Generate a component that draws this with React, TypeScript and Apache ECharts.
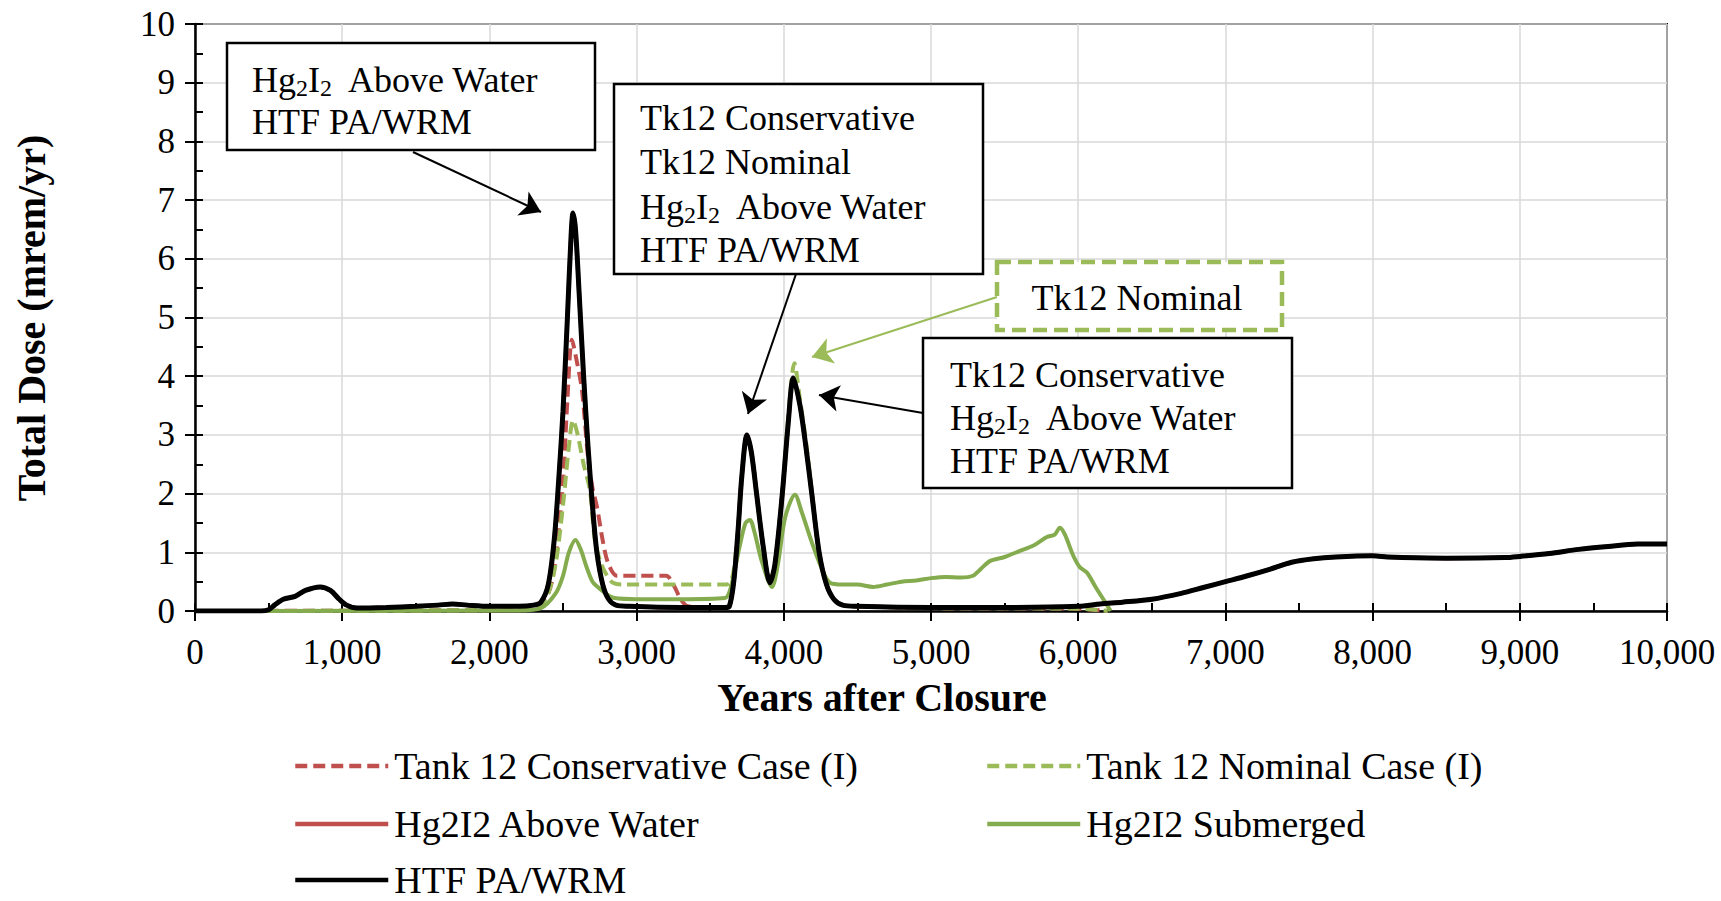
import React, { useEffect, useRef } from "react";
import * as echarts from "echarts";

const FONT = '"Liberation Serif", "Times New Roman", serif';

// ---- Data (years after closure, total dose mrem/yr) ----
const xMax = 10000;
const yMax = 10;

const htfYears = [0, 450, 500, 540, 600, 680, 750, 850, 920, 980, 1030, 1100, 1300, 1500, 1650, 1750, 1850, 2000, 2200, 2300, 2350, 2400, 2440, 2470, 2500, 2530, 2555, 2568, 2585, 2610, 2640, 2670, 2700, 2730, 2770, 2810, 2860, 2950, 3300, 3600, 3630, 3660, 3690, 3715, 3750, 3780, 3815, 3860, 3906, 3940, 3990, 4030, 4065, 4110, 4150, 4190, 4240, 4290, 4340, 4400, 4500, 5000, 5500, 6000, 6150, 6300, 6500, 6700, 6850, 7000, 7150, 7300, 7450, 7600, 7750, 8000, 8100, 8200, 8500, 8900, 9000, 9200, 9400, 9600, 9800, 10000];
const htfDose = [0, 0, 0.02, 0.1, 0.2, 0.25, 0.35, 0.41, 0.35, 0.2, 0.1, 0.05, 0.06, 0.08, 0.1, 0.12, 0.1, 0.08, 0.08, 0.1, 0.15, 0.45, 1.2, 2.2, 3.4, 5.0, 6.4, 6.78, 6.5, 5.4, 4.0, 2.8, 1.8, 1.0, 0.45, 0.2, 0.1, 0.08, 0.06, 0.06, 0.08, 0.5, 1.4, 2.3, 3.0, 2.7, 2.0, 1.1, 0.48, 0.8, 2.0, 3.2, 3.97, 3.5, 2.8, 2.0, 1.0, 0.45, 0.2, 0.1, 0.08, 0.06, 0.06, 0.08, 0.12, 0.15, 0.2, 0.3, 0.4, 0.5, 0.6, 0.71, 0.83, 0.89, 0.92, 0.94, 0.92, 0.91, 0.9, 0.91, 0.93, 0.98, 1.05, 1.1, 1.14, 1.14];

// Hg2I2 Above Water coincides with HTF PA/WRM in the figure
const aboveWaterYears = htfYears;
const aboveWaterDose = htfDose;

const consYears = [0, 2250, 2300, 2400, 2450, 2500, 2530, 2561, 2590, 2629, 2670, 2700, 2731, 2770, 2806, 2867, 3000, 3200, 3250, 3300, 3350, 3600, 3630, 3660, 3690, 3715, 3750, 3780, 3815, 3860, 3906, 3940, 3990, 4030, 4065, 4110, 4150, 4190, 4240, 4290, 4340, 4400, 4500, 5000, 6000, 6200];
const consDose = [0, 0.02, 0.05, 0.3, 0.9, 2.2, 3.6, 4.62, 4.3, 3.76, 2.62, 2.1, 1.77, 1.2, 0.82, 0.6, 0.6, 0.6, 0.45, 0.2, 0.08, 0.06, 0.08, 0.5, 1.4, 2.3, 3.0, 2.7, 2.0, 1.1, 0.48, 0.8, 2.0, 3.2, 3.97, 3.5, 2.8, 2.0, 1.0, 0.45, 0.2, 0.1, 0.08, 0.05, 0.04, 0];

const nomYears = [0, 2250, 2350, 2400, 2450, 2500, 2540, 2568, 2600, 2640, 2683, 2717, 2760, 2800, 2840, 2900, 3300, 3610, 3640, 3660, 3690, 3715, 3750, 3780, 3815, 3860, 3906, 3940, 3990, 4030, 4072, 4110, 4150, 4190, 4240, 4290, 4340, 4400, 4500, 5000, 6000, 6200];
const nomDose = [0, 0.02, 0.1, 0.3, 0.8, 1.8, 2.8, 3.25, 3.0, 2.5, 2.06, 1.2, 0.8, 0.6, 0.48, 0.45, 0.45, 0.45, 0.5, 0.7, 1.4, 2.3, 3.0, 2.7, 2.0, 1.1, 0.5, 0.8, 2.0, 3.3, 4.22, 3.6, 2.9, 2.05, 1.0, 0.45, 0.2, 0.1, 0.08, 0.05, 0.04, 0];

const subYears = [0, 2200, 2350, 2450, 2500, 2540, 2585, 2620, 2660, 2700, 2730, 2800, 2850, 3000, 3300, 3600, 3640, 3700, 3740, 3770, 3800, 3850, 3920, 3960, 4010, 4076, 4120, 4200, 4270, 4314, 4400, 4500, 4607, 4700, 4800, 4900, 5000, 5100, 5200, 5285, 5340, 5400, 5500, 5600, 5700, 5787, 5840, 5876, 5910, 5965, 6010, 6060, 6120, 6196, 6220];
const subDose = [0, 0.01, 0.05, 0.3, 0.6, 1.0, 1.21, 1.05, 0.75, 0.5, 0.42, 0.28, 0.22, 0.2, 0.2, 0.22, 0.4, 1.1, 1.5, 1.55, 1.35, 0.85, 0.41, 0.8, 1.6, 1.98, 1.7, 1.1, 0.65, 0.48, 0.45, 0.45, 0.41, 0.45, 0.5, 0.52, 0.56, 0.58, 0.57, 0.6, 0.72, 0.85, 0.92, 1.02, 1.12, 1.26, 1.3, 1.42, 1.3, 0.95, 0.75, 0.65, 0.4, 0.1, 0];

const seriesNames = [
  "Tank 12 Conservative Case (I)",
  "Tank 12 Nominal Case (I)",
  "Hg2I2 Above Water",
  "Hg2I2 Submerged",
  "HTF PA/WRM",
];

const toPairs = (xs: number[], ys: number[]) => xs.map((x, i) => [x, ys[i]]);

const RED = "#c0504d";
const GREEN_D = "#9bbb59";
const GREEN_S = "#84ac4e";

export default function App() {
  const ref = useRef<HTMLDivElement>(null);

  useEffect(() => {
    if (!ref.current) return;
    const chart = echarts.init(ref.current, undefined, { renderer: "svg" });

    const tickLabel = { fontFamily: FONT, fontSize: 35, color: "#000" };
    const rich = {
      n: { fontFamily: FONT, fontSize: 36, fill: "#000", color: "#000" },
      s: { fontFamily: FONT, fontSize: 24, fill: "#000", color: "#000", padding: [16, 0, 0, 0] },
    };
    const hg = (rest: string) => `{n|Hg}{s|2}{n|I}{s|2}{n|${rest}}`;
    const txt = (x: number, y: number, text: string, isRich = false, align = "left") => ({
      type: "text",
      x,
      y,
      z: 101,
      style: {
        text,
        font: `36px ${FONT}`,
        fill: "#000",
        textAlign: align,
        textVerticalAlign: "middle",
        ...(isRich ? { rich } : {}),
      },
    });

    const legendItem = (name: string, left: number, top: number) => ({
      orient: "horizontal",
      left,
      top,
      padding: 0,
      itemWidth: 93,
      itemHeight: 4,
      data: [name],
      itemStyle: { opacity: 0 },
      lineStyle: { width: 4.5 },
      textStyle: { fontFamily: FONT, fontSize: 38, color: "#000", lineHeight: 38, padding: [0, 0, 0, 1] },
    });

    const option: any = {
      animation: false,
      backgroundColor: "#ffffff",
      grid: {
        left: 195,
        right: 54,
        top: 24,
        bottom: 290,
        show: true,
        borderColor: "#000",
        borderWidth: 2,
        backgroundColor: "transparent",
      },
      xAxis: [
        {
          type: "value",
          min: 0,
          max: xMax,
          interval: 1000,
          position: "bottom",
          axisLine: { show: true, lineStyle: { color: "#000", width: 2.5 } },
          axisTick: { show: true, inside: true, length: 8, lineStyle: { color: "#000", width: 2 } },
          minorTick: { show: true, splitNumber: 2, length: 8, lineStyle: { color: "#000", width: 2 } },
          splitLine: { show: true, lineStyle: { color: "#d9d9d9", width: 1.5 } },
          axisLabel: {
            ...tickLabel,
            margin: 24,
            formatter: (v: number) => v.toLocaleString("en-US"),
          },
        },
        {
          type: "value",
          min: 0,
          max: xMax,
          interval: 1000,
          position: "bottom",
          axisLine: { show: false },
          axisTick: { show: true, inside: false, length: 10, lineStyle: { color: "#000", width: 2 } },
          axisLabel: { show: false },
          splitLine: { show: false },
        },
      ],
      yAxis: [
        {
          type: "value",
          min: 0,
          max: yMax,
          interval: 1,
          position: "left",
          axisLine: { show: true, lineStyle: { color: "#000", width: 2.5 } },
          axisTick: { show: true, inside: true, length: 8, lineStyle: { color: "#000", width: 2 } },
          minorTick: { show: true, splitNumber: 2, length: 8, lineStyle: { color: "#000", width: 2 } },
          splitLine: { show: true, lineStyle: { color: "#d9d9d9", width: 1.5 } },
          axisLabel: { ...tickLabel, margin: 20 },
        },
        {
          type: "value",
          min: 0,
          max: yMax,
          interval: 1,
          position: "left",
          axisLine: { show: false },
          axisTick: { show: true, inside: false, length: 10, lineStyle: { color: "#000", width: 2 } },
          axisLabel: { show: false },
          splitLine: { show: false },
        },
      ],
      legend: [
        legendItem(seriesNames[0], 293, 747),
        legendItem(seriesNames[1], 985, 747),
        legendItem(seriesNames[2], 293, 805),
        legendItem(seriesNames[3], 985, 805),
        legendItem(seriesNames[4], 293, 861),
      ],
      series: [
        {
          name: seriesNames[0],
          type: "line",
          data: toPairs(consYears, consDose),
          showSymbol: false,
          symbol: "none",
          smooth: 0.3,
          lineStyle: { color: RED, width: 4, type: [12, 6] },
          itemStyle: { color: RED },
        },
        {
          name: seriesNames[1],
          type: "line",
          data: toPairs(nomYears, nomDose),
          showSymbol: false,
          symbol: "none",
          smooth: 0.3,
          lineStyle: { color: GREEN_D, width: 4, type: [12, 6] },
          itemStyle: { color: GREEN_D },
        },
        {
          name: seriesNames[2],
          type: "line",
          data: toPairs(aboveWaterYears, aboveWaterDose),
          showSymbol: false,
          symbol: "none",
          smooth: 0.3,
          lineStyle: { color: RED, width: 4 },
          itemStyle: { color: RED },
        },
        {
          name: seriesNames[3],
          type: "line",
          data: toPairs(subYears, subDose),
          showSymbol: false,
          symbol: "none",
          smooth: 0.3,
          lineStyle: { color: GREEN_S, width: 4 },
          itemStyle: { color: GREEN_S },
        },
        {
          name: seriesNames[4],
          type: "line",
          data: toPairs(htfYears, htfDose),
          showSymbol: false,
          symbol: "none",
          smooth: 0.3,
          lineStyle: { color: "#000", width: 5 },
          itemStyle: { color: "#000" },
          markLine: {
            silent: true,
            symbol: ["none", "arrow"],
            symbolSize: 20,
            label: { show: false },
            lineStyle: { color: "#000", width: 2, type: "solid" },
            data: [
              [{ x: 413, y: 152 }, { x: 541, y: 212 }],
              [{ x: 796, y: 274 }, { x: 748, y: 414 }],
              [{ x: 923, y: 413 }, { x: 819, y: 395 }],
              [
                { x: 997, y: 297, lineStyle: { color: GREEN_D, width: 2 }, itemStyle: { color: GREEN_D } },
                { x: 812, y: 357 },
              ],
            ],
          },
        },
      ],
      graphic: [
        {
          type: "text",
          x: 31,
          y: 318,
          rotation: Math.PI / 2,
          style: {
            text: "Total Dose (mrem/yr)",
            font: `bold 40px ${FONT}`,
            fill: "#000",
            textAlign: "center",
            textVerticalAlign: "middle",
          },
        },
        {
          type: "text",
          x: 882,
          y: 697,
          style: {
            text: "Years after Closure",
            font: `bold 40px ${FONT}`,
            fill: "#000",
            textAlign: "center",
            textVerticalAlign: "middle",
          },
        },
        // Box 1
        {
          type: "rect",
          z: 100,
          shape: { x: 227, y: 43, width: 368, height: 107 },
          style: { fill: "#fff", stroke: "#000", lineWidth: 2.5 },
        },
        txt(252, 80, hg("  Above Water"), true),
        txt(252, 122, "HTF PA/WRM"),
        // Box 2
        {
          type: "rect",
          z: 100,
          shape: { x: 614, y: 84, width: 369, height: 190 },
          style: { fill: "#fff", stroke: "#000", lineWidth: 2.5 },
        },
        txt(640, 118, "Tk12 Conservative"),
        txt(640, 162, "Tk12 Nominal"),
        txt(640, 207, hg("  Above Water"), true),
        txt(640, 250, "HTF PA/WRM"),
        // Box 3 (green dashed)
        {
          type: "rect",
          z: 100,
          shape: { x: 997, y: 262, width: 285, height: 68 },
          style: { fill: "#fff", stroke: GREEN_D, lineWidth: 4.5, lineDash: [14, 7] },
        },
        txt(1137, 298, "Tk12 Nominal", false, "center"),
        // Box 4
        {
          type: "rect",
          z: 100,
          shape: { x: 923, y: 338, width: 369, height: 150 },
          style: { fill: "#fff", stroke: "#000", lineWidth: 2.5 },
        },
        txt(950, 375, "Tk12 Conservative"),
        txt(950, 418, hg("  Above Water"), true),
        txt(950, 461, "HTF PA/WRM"),
      ],
    };

    chart.setOption(option);
    return () => chart.dispose();
  }, []);

  return (
    <div
      ref={ref}
      style={{ position: "absolute", left: 0, top: 0, width: 1721, height: 901, background: "#fff" }}
    />
  );
}
